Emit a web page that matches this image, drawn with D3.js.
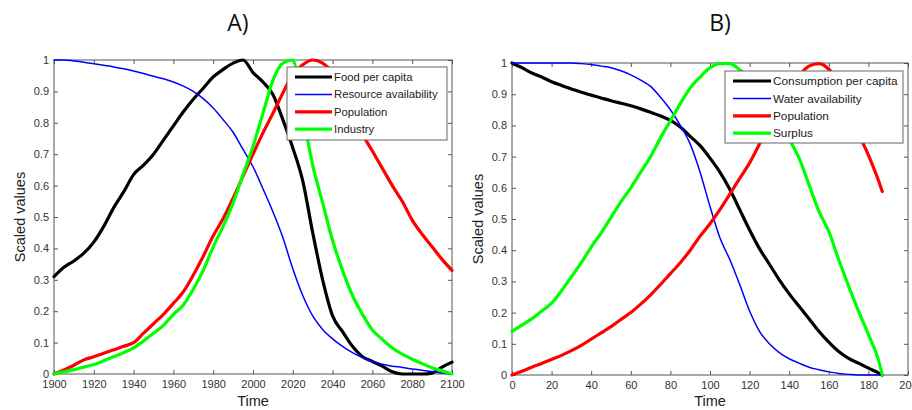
<!DOCTYPE html>
<html>
<head>
<meta charset="utf-8">
<script src="https://cdn.jsdelivr.net/npm/d3@7/dist/d3.min.js"></script>
<style>
  body { margin: 0; background: #fff; }
  svg { display: block; font-family: "Liberation Sans", Arial, sans-serif; }
</style>
</head>
<body>
<div id="chart"></div>
<script>
// Panel A: time in years.
const yearsA = [1900, 1905, 1910, 1915, 1920, 1925, 1930, 1935, 1940, 1945, 1950, 1955, 1960, 1965,
  1970, 1975, 1980, 1985, 1990, 1995, 2000, 2005, 2010, 2015, 2020, 2025, 2030, 2035, 2040, 2045,
  2050, 2055, 2060, 2065, 2070, 2075, 2080, 2085, 2090, 2095, 2100];
const foodA = [0.31, 0.34, 0.36, 0.385, 0.42, 0.47, 0.53, 0.58, 0.635, 0.665, 0.70, 0.745, 0.79, 0.835,
  0.875, 0.91, 0.946, 0.97, 0.99, 1.0, 0.96, 0.93, 0.89, 0.81, 0.72, 0.615, 0.45, 0.30, 0.185, 0.135,
  0.088, 0.055, 0.04, 0.025, 0.007, 0, 0, 0, 0.003, 0.022, 0.038];
const resourceA = [1.0, 1.0, 0.997, 0.993, 0.988, 0.983, 0.978, 0.972, 0.965, 0.957, 0.948, 0.94, 0.93, 0.917,
  0.90, 0.877, 0.847, 0.81, 0.77, 0.715, 0.66, 0.59, 0.517, 0.435, 0.335, 0.25, 0.185, 0.142, 0.112, 0.088,
  0.068, 0.052, 0.039, 0.031, 0.025, 0.021, 0.016, 0.012, 0.008, 0.003, 0];
const populationA = [0, 0.013, 0.028, 0.045, 0.055, 0.066, 0.077, 0.088, 0.10, 0.13, 0.16, 0.19, 0.225, 0.262,
  0.315, 0.375, 0.44, 0.495, 0.56, 0.63, 0.70, 0.768, 0.83, 0.895, 0.955, 0.985, 1.0, 0.99, 0.96, 0.91,
  0.845, 0.765, 0.71, 0.655, 0.60, 0.55, 0.49, 0.445, 0.405, 0.365, 0.33];
const industryA = [0, 0.007, 0.014, 0.022, 0.03, 0.042, 0.055, 0.068, 0.083, 0.105, 0.13, 0.155, 0.19, 0.22,
  0.27, 0.33, 0.405, 0.47, 0.545, 0.635, 0.725, 0.83, 0.935, 0.99, 1.0, 0.83, 0.665, 0.545, 0.425, 0.33,
  0.25, 0.19, 0.14, 0.11, 0.083, 0.063, 0.047, 0.033, 0.02, 0.01, 0];

// Panel B: time steps.
const timeB = [0, 5, 10, 15, 20, 25, 30, 35, 40, 45, 50, 55, 60, 65, 70, 75, 80, 85, 90, 95, 100,
  105, 110, 115, 120, 125, 130, 135, 140, 145, 150, 155, 160, 165, 170, 175, 180, 185, 187];
const consumptionB = [1.0, 0.985, 0.968, 0.955, 0.94, 0.928, 0.917, 0.906, 0.897, 0.888, 0.879, 0.871, 0.863,
  0.853, 0.842, 0.83, 0.816, 0.795, 0.765, 0.735, 0.695, 0.65, 0.595, 0.53, 0.465, 0.405, 0.355, 0.305,
  0.26, 0.22, 0.18, 0.14, 0.105, 0.075, 0.053, 0.038, 0.022, 0.007, 0];
const waterB = [1.0, 1.0, 1.0, 1.0, 1.0, 1.0, 1.0, 0.998, 0.995, 0.99, 0.985, 0.975, 0.962, 0.945, 0.925,
  0.89, 0.85, 0.80, 0.74, 0.65, 0.54, 0.44, 0.37, 0.29, 0.205, 0.14, 0.10, 0.072, 0.052, 0.038, 0.025,
  0.017, 0.01, 0.005, 0.002, 0, 0, 0, 0];
const populationB = [0, 0.012, 0.025, 0.037, 0.05, 0.063, 0.078, 0.095, 0.115, 0.135, 0.155, 0.178, 0.20,
  0.227, 0.257, 0.29, 0.325, 0.36, 0.40, 0.445, 0.485, 0.53, 0.58, 0.63, 0.68, 0.74, 0.80, 0.86, 0.915,
  0.96, 0.99, 0.998, 0.98, 0.935, 0.86, 0.775, 0.705, 0.625, 0.588];
const surplusB = [0.14, 0.16, 0.18, 0.205, 0.23, 0.27, 0.315, 0.36, 0.41, 0.455, 0.505, 0.555, 0.60, 0.65,
  0.70, 0.76, 0.815, 0.87, 0.92, 0.955, 0.985, 0.998, 0.998, 0.978, 0.95, 0.91, 0.86, 0.81, 0.755, 0.695,
  0.61, 0.525, 0.46, 0.37, 0.285, 0.205, 0.13, 0.05, 0];

// Tick labels.
const yTicks = [0, 0.1, 0.2, 0.3, 0.4, 0.5, 0.6, 0.7, 0.8, 0.9, 1];
const xTicksA = [1900, 1920, 1940, 1960, 1980, 2000, 2020, 2040, 2060, 2080, 2100];
const xTicksB = [0, 20, 40, 60, 80, 100, 120, 140, 160, 180, 200];

const width = 912, height = 410;

const svg = d3.select("#chart")
  .append("svg")
  .attr("width", width)
  .attr("height", height)
  .attr("viewBox", [0, 0, width, height]);

/**
 * Draw one panel with box axes, lines and legend.
 */
function panel(opt) {
  const x = d3.scaleLinear().domain(opt.xDomain).range([opt.left, opt.right]);
  const y = d3.scaleLinear().domain([0, 1]).range([opt.bottom, opt.top]);
  const g = svg.append("g");

  // Panel title.
  g.append("text")
    .attr("x", opt.titleX)
    .attr("y", 31)
    .attr("text-anchor", "middle")
    .attr("font-family", "'Open Sans', sans-serif")
    .attr("font-size", 23)
    .attr("fill", "#111")
    .text(opt.title);

  // Inner ticks on all four sides.
  const styleAxis = (a) => {
    a.select(".domain").remove();
    a.selectAll(".tick line").attr("stroke", "#555");
    a.selectAll(".tick text").attr("fill", "#333").attr("font-size", 11)
      .attr("font-family", "'Liberation Sans', Arial, sans-serif");
  };

  g.append("g")
    .attr("transform", `translate(0,${opt.bottom})`)
    .call(d3.axisBottom(x).tickValues(opt.xTicks).tickFormat(d3.format("d"))
      .tickSizeInner(-4).tickSizeOuter(0).tickPadding(6))
    .call(styleAxis);

  g.append("g")
    .attr("transform", `translate(0,${opt.top})`)
    .call(d3.axisTop(x).tickValues(opt.xTicks).tickFormat("")
      .tickSizeInner(-4).tickSizeOuter(0))
    .call(styleAxis);

  g.append("g")
    .attr("transform", `translate(${opt.left},0)`)
    .call(d3.axisLeft(y).tickValues(yTicks).tickFormat(d3.format("~g"))
      .tickSizeInner(-4).tickSizeOuter(0).tickPadding(5))
    .call(styleAxis);

  g.append("g")
    .attr("transform", `translate(${opt.right},0)`)
    .call(d3.axisRight(y).tickValues(yTicks).tickFormat("")
      .tickSizeInner(-4).tickSizeOuter(0))
    .call(styleAxis);

  // Box.
  g.append("rect")
    .attr("x", opt.left)
    .attr("y", opt.top)
    .attr("width", opt.right - opt.left)
    .attr("height", opt.bottom - opt.top)
    .attr("fill", "none")
    .attr("stroke", "#555")
    .attr("stroke-width", 1);

  // Axis labels.
  g.append("text")
    .attr("x", (opt.left + opt.right) / 2)
    .attr("y", 406)
    .attr("text-anchor", "middle")
    .attr("font-size", 14.5)
    .attr("fill", "#222")
    .text("Time");

  g.append("text")
    .attr("transform", `translate(${opt.left - 29},${(opt.top + opt.bottom) / 2}) rotate(-90)`)
    .attr("text-anchor", "middle")
    .attr("font-size", 14.5)
    .attr("fill", "#222")
    .text("Scaled values");

  // Series lines.
  const line = d3.line()
    .curve(d3.curveMonotoneX)
    .x((d) => x(d[0]))
    .y((d) => y(d[1]));

  opt.series.forEach((s) => {
    g.append("path")
      .datum(opt.xs.map((v, i) => [v, s.values[i]]))
      .attr("fill", "none")
      .attr("stroke", s.color)
      .attr("stroke-width", s.width)
      .attr("stroke-linejoin", "round")
      .attr("stroke-linecap", "round")
      .attr("d", line);
  });

  // Legend box.
  const lg = opt.legend;
  g.append("rect")
    .attr("x", lg.x)
    .attr("y", lg.y)
    .attr("width", lg.w)
    .attr("height", lg.h)
    .attr("fill", "#fff")
    .attr("stroke", "#666")
    .attr("stroke-width", 1);

  opt.series.forEach((s, i) => {
    const cy = lg.y + 10 + i * 17.4;
    g.append("line")
      .attr("x1", lg.x + 8)
      .attr("x2", lg.x + 8 + lg.lineLen)
      .attr("y1", cy)
      .attr("y2", cy)
      .attr("stroke", s.color)
      .attr("stroke-width", s.width);
    g.append("text")
      .attr("x", lg.x + 10 + lg.lineLen)
      .attr("y", cy)
      .attr("dy", "0.35em")
      .attr("font-size", lg.font)
      .attr("fill", "#222")
      .text(s.name);
  });
}

panel({
  title: "A)", titleX: 238,
  left: 54, right: 452, top: 60, bottom: 374,
  xDomain: [1900, 2100], xTicks: xTicksA, xs: yearsA,
  legend: { x: 287, y: 67, w: 160, h: 73, lineLen: 37, font: 11.3 },
  series: [
    { name: "Food per capita", values: foodA, color: "#000000", width: 3.2 },
    { name: "Resource availability", values: resourceA, color: "#0000ff", width: 1.5 },
    { name: "Population", values: populationA, color: "#ff0000", width: 3.2 },
    { name: "Industry", values: industryA, color: "#00ff00", width: 3.2 }
  ]
});

panel({
  title: "B)", titleX: 720,
  left: 512, right: 908, top: 63, bottom: 375,
  xDomain: [0, 200], xTicks: xTicksB, xs: timeB,
  legend: { x: 725, y: 71, w: 178, h: 72, lineLen: 38, font: 11.8 },
  series: [
    { name: "Consumption per capita", values: consumptionB, color: "#000000", width: 3.2 },
    { name: "Water availability", values: waterB, color: "#0000ff", width: 1.5 },
    { name: "Population", values: populationB, color: "#ff0000", width: 3.2 },
    { name: "Surplus", values: surplusB, color: "#00ff00", width: 3.2 }
  ]
});
</script>
</body>
</html>
